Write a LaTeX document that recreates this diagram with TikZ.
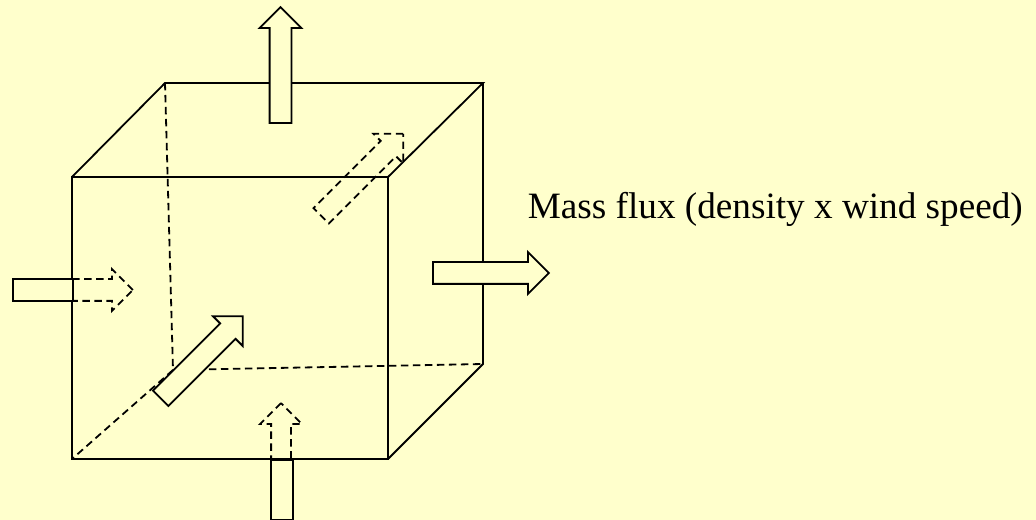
\documentclass[tikz,border=0pt]{standalone}
\usepackage{fontspec}
\setmainfont{Liberation Serif}
\usepackage{xcolor}
\definecolor{myyellow}{RGB}{255,255,204}
\usetikzlibrary{positioning}
\usetikzlibrary{shapes.arrows}
\tikzset{flux arrow/.style={single arrow,draw,anchor=tail,inner xsep=0pt,inner ysep=7.5pt,minimum width=30pt,minimum height=87pt,single arrow head extend=7.5pt},
	solid arrow/.style={flux arrow,fill=myyellow},
	hidden arrow/.style={flux arrow,dash pattern=on 5.5pt off 3.5pt},
	flux box/.style={rectangle,draw,fill=myyellow,inner sep=0pt,minimum height=16.5pt,minimum width=45pt}}

\begin{document}
\begin{tikzpicture}[x=0.75pt, y=-0.75pt, line width=1.35pt, line join=miter]
	\fill[myyellow,use as bounding box] (0,0) rectangle (1036,520);

	% corners of the cube
	\coordinate (ftl) at (72,177);
	\coordinate (ftr) at (388,177);
	\coordinate (fbr) at (388,459);
	\coordinate (fbl) at (72,459);
	\coordinate (btl) at (165,83);
	\coordinate (btr) at (483,83);
	\coordinate (bbr) at (483,364);
	\coordinate (bbl) at (173,370);

	\path[draw]
	(ftl) -- (ftr) -- (fbr) -- (fbl) -- cycle
	(ftl) -- (btl) -- (btr) -- (ftr)
	(btr) -- (bbr) -- (fbr);
	\path[draw,dash pattern=on 5.5pt off 3.5pt]
	(btl) -- (bbl)
	(bbl) -- (bbr)
	(bbl) -- (fbl);

	% arrows through the faces
	\node[hidden arrow, rotate=45] (back) at (320.5,216.5) {};
	\node[hidden arrow, rotate=0, minimum height=89.25pt] (left) at (13,290) {};
	\node[hidden arrow, rotate=90, inner ysep=6.75pt, single arrow head extend=8.25pt] (bottom) at (281,520) {};
	\node[solid arrow, rotate=90] (top) at (280.5,124) {};
	\node[solid arrow, rotate=0] (right) at (432,273) {};
	\node[solid arrow, rotate=45] (front) at (160,399) {};
	\node[flux box] (leftbox) at (43,290) {};
	\node[flux box, minimum width=16.5pt, minimum height=45pt] (bottombox) at (282,490) {};

	\node[anchor=base west, inner sep=0pt, font=\fontsize{27.9}{34}\selectfont] (flux) at (527,219) {Mass flux (density x wind speed)};
\end{tikzpicture}
\end{document}
